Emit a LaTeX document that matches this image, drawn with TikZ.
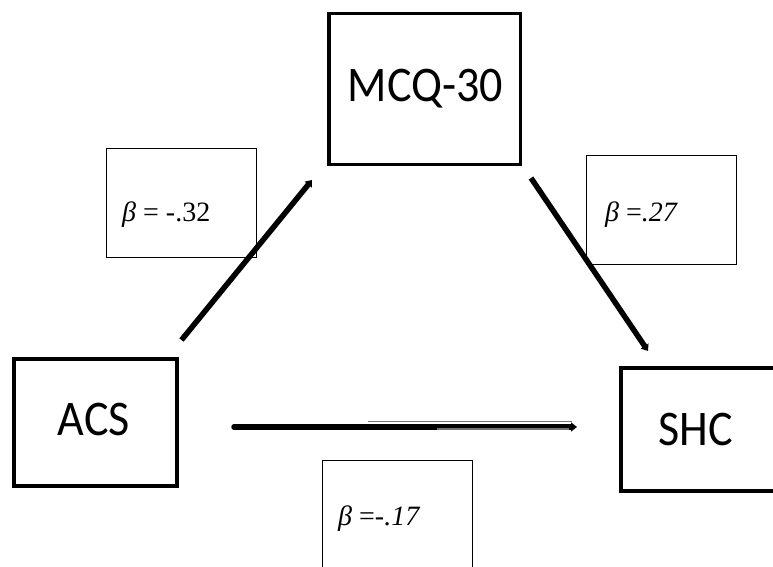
\documentclass[tikz,border=0pt]{standalone}
\usepackage{fontspec}
\setmainfont{Liberation Serif}
\newfontfamily\calibri{Carlito}
\usetikzlibrary{arrows.meta}
\newcommand{\tallcaps}[1]{\scalebox{0.98}[1.06]{#1}}
\begin{document}
\begin{tikzpicture}[x=1pt,y=-1pt,
  varbox/.style={draw, line width=3.5pt, rectangle, inner sep=0pt},
  betabox/.style={draw, line width=1pt, fill=white, rectangle, inner sep=0pt, minimum width=150pt, minimum height=109pt},
  varlabel/.style={font=\calibri\fontsize{47}{47}\selectfont, anchor=base, inner sep=0pt},
  betalabel/.style={font=\fontsize{28}{28}\selectfont, anchor=base west, inner sep=0pt},
  conn/.style={line width=5.5pt, -{Triangle[length=6pt,width=9pt]}},
  overlay line/.style={draw=black!55, line width=1.6pt}
]
\useasboundingbox (0,0) rectangle (773,567);
\clip (0,0) rectangle (773,567);

% variable boxes
\node[varbox, minimum width=191.5pt, minimum height=150.5pt] (mcq) at (424.5,89) {};
\node[varbox, minimum width=163pt, minimum height=127pt] (acs) at (95.25,422.25) {};
\node[varbox, minimum width=200pt, minimum height=123pt] (shc) at (720.75,429.3) {};

\node[varlabel] (mcqt) at (425.5,101.7) {\tallcaps{MCQ-30}};
\node[varlabel] (acst) at (93.7,435) {\tallcaps{ACS}};
\node[varlabel] (shct) at (696,445) {\tallcaps{SHC}};

% coefficient boxes
\node[betabox] (b1) at (181,202.5) {};
\node[betabox] (b2) at (661,209.5) {};
\node[betabox] (b3) at (397,514.5) {};

\node[betalabel] (b1t) at (122,221.7) {{\itshape β} = -.32};
\node[betalabel] (b2t) at (605,221.7) {{\itshape β} =\textit{.27}};
\node[betalabel] (b3t) at (338,525) {{\itshape β} =-\textit{.17}};

% connectors
\coordinate (a1s) at (181.5,340);
\coordinate (a1e) at (312,180);
\coordinate (a2s) at (531,178);
\coordinate (a2e) at (648,351);
\coordinate (a3s) at (234,427);
\coordinate (a3e) at (577,427);
\coordinate (g1s) at (368,421.5);
\coordinate (g1e) at (572,421.5);
\coordinate (g2s) at (437,429);
\coordinate (g2e) at (569,429);

\draw[conn] (a1s) -- (a1e);
\draw[conn] (a2s) -- (a2e);
\draw[conn, line cap=round] (a3s) -- (a3e);
\draw[overlay line] (g1s) -- (g1e);
\draw[overlay line, line width=2pt] (g2s) -- (g2e);
\end{tikzpicture}
\end{document}
